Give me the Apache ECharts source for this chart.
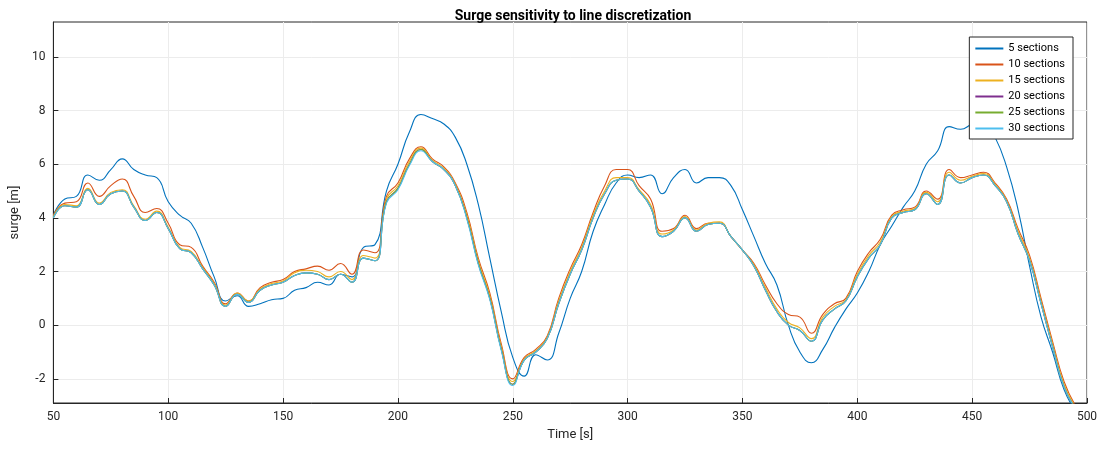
<!DOCTYPE html>
<html>
<head>
<meta charset="utf-8" />
<title>Surge sensitivity</title>
<script src="https://cdn.jsdelivr.net/npm/echarts@6/dist/echarts.min.js"></script>
<style>html,body{margin:0;background:#fff;}</style>
</head>
<body>
<div id="main" style="width:1102px;height:452px;"></div>
<script>
// time axis, 5 s steps
var times = [];
for (var t = 50; t <= 495; t += 5) times.push(t);
var names = ['5 sections', '10 sections', '15 sections', '20 sections', '25 sections', '30 sections'];
var colors = ['#0072BD', '#D95319', '#EDB120', '#7E2F8E', '#77AC30', '#4DBEEE'];

var s5 = [4.1,4.7,4.8,5.6,5.4,5.8,6.2,5.8,5.6,5.5,4.6,4.1,3.8,2.9,1.8,0.9,1.1,0.7,0.8,0.95,1.0,1.3,1.4,1.6,1.5,1.9,1.8,2.9,3.0,5.0,
  6.0,7.2,7.85,7.7,7.5,7.0,6.0,4.5,2.5,0.5,-1.2,-1.9,-1.1,-1.3,-0.3,1.0,2.0,3.5,4.5,5.3,5.6,5.5,5.6,4.9,5.5,5.8,5.3,5.5,5.5,5.2,
  4.3,3.3,2.3,1.5,0.0,-1.0,-1.4,-0.9,-0.1,0.6,1.2,2.0,3.0,3.7,4.4,5.0,6.0,6.5,7.4,7.3,7.5,7.6,7.0,5.9,4.3,2.2,0.3,-1.0,-2.4,-3.2];
var s10 = [4.1,4.55,4.6,5.3,4.8,5.2,5.45,4.8,4.2,4.35,3.8,3.0,2.9,2.2,1.6,0.8,1.2,0.9,1.4,1.6,1.7,2.0,2.1,2.2,2.05,2.3,1.9,2.8,2.7,4.8,
  5.3,6.2,6.65,6.2,5.9,5.3,4.2,2.5,1.2,-0.7,-2.0,-1.2,-0.9,-0.4,1.0,2.1,3.0,4.2,5.2,5.8,5.8,5.2,4.7,3.5,3.6,4.1,3.6,3.8,3.8,3.3,
  2.8,2.3,1.5,0.8,0.4,0.3,-0.3,0.4,0.8,1.0,2.0,2.7,3.2,4.1,4.3,4.4,5.0,4.7,5.8,5.5,5.6,5.7,5.3,4.7,3.6,2.6,1.0,-0.6,-2.1,-3.0];
var s15 = [4.05,4.5,4.45,5.1,4.55,4.95,5.05,4.45,3.95,4.25,3.65,2.9,2.75,2.15,1.55,0.75,1.2,0.9,1.35,1.55,1.65,1.95,2.05,2.0,1.8,2.0,1.7,2.6,2.5,4.7,
  5.2,6.1,6.6,6.15,5.85,5.25,4.1,2.4,1.1,-0.8,-2.1,-1.25,-0.95,-0.45,0.9,2.0,2.9,4.1,5.0,5.5,5.5,5.05,4.5,3.4,3.55,4.05,3.55,3.8,3.85,3.3,
  2.8,2.25,1.4,0.6,0.1,-0.1,-0.5,0.3,0.7,0.95,1.9,2.6,3.1,4.05,4.25,4.35,4.95,4.6,5.7,5.4,5.55,5.65,5.25,4.65,3.5,2.5,0.9,-0.7,-2.2,-3.05];
var s20 = [4.0,4.45,4.4,5.05,4.5,4.9,5.0,4.4,3.9,4.2,3.6,2.85,2.7,2.1,1.5,0.7,1.15,0.85,1.3,1.5,1.6,1.85,1.95,1.9,1.7,1.9,1.6,2.5,2.4,4.6,
  5.1,6.0,6.55,6.1,5.8,5.2,4.0,2.3,1.0,-0.9,-2.2,-1.3,-1.0,-0.5,0.8,1.9,2.8,4.0,4.9,5.4,5.45,5.0,4.4,3.3,3.5,4.0,3.5,3.75,3.8,3.3,
  2.8,2.2,1.3,0.5,0.0,-0.2,-0.6,0.2,0.6,0.9,1.8,2.5,3.0,4.0,4.2,4.3,4.9,4.5,5.6,5.3,5.5,5.6,5.2,4.6,3.4,2.4,0.8,-0.8,-2.3,-3.1];
var s25 = s20.slice();
var s30 = [4.0,4.45,4.4,5.05,4.5,4.9,5.0,4.4,3.9,4.2,3.6,2.85,2.7,2.1,1.5,0.7,1.15,0.85,1.3,1.5,1.6,1.85,1.95,1.9,1.7,1.9,1.6,2.5,2.4,4.55,
  5.05,5.95,6.5,6.1,5.8,5.2,3.95,2.25,0.95,-0.95,-2.25,-1.3,-1.0,-0.5,0.8,1.9,2.8,4.0,4.9,5.4,5.45,5.0,4.4,3.3,3.5,4.0,3.5,3.75,3.8,3.3,
  2.8,2.2,1.3,0.5,0.0,-0.2,-0.6,0.2,0.6,0.9,1.8,2.5,3.0,4.0,4.2,4.3,4.9,4.5,5.6,5.3,5.5,5.6,5.2,4.6,3.4,2.4,0.8,-0.8,-2.3,-3.1];
var allSeries = [s5, s10, s15, s20, s25, s30];

function pairs(vals) {
  return vals.map(function (v, i) { return [times[i], v]; });
}

var myChart = echarts.init(document.getElementById('main'));
var font = 'Roboto, "Liberation Sans", Arial, sans-serif';
var option = {
  animation: false,
  textStyle: { fontFamily: font },
  title: {
    text: 'Surge sensitivity to line discretization',
    left: 568, top: 4, textAlign: 'center',
    textStyle: { fontSize: 14, fontWeight: 'bold', color: '#000', fontFamily: font }
  },
  grid: { left: 49, right: 15, top: 22, bottom: 49, show: true, borderColor: '#262626', borderWidth: 1 },
  legend: {
    orient: 'vertical', right: 29, top: 37,
    data: names, itemWidth: 28, itemHeight: 2, itemGap: 5,
    icon: 'rect',
    backgroundColor: '#fff', borderColor: '#262626', borderWidth: 1, borderRadius: 0,
    padding: [6, 8, 5, 6],
    textStyle: { fontSize: 11, color: '#000' }
  },
  xAxis: {
    type: 'value', min: 50, max: 500, interval: 50,
    name: 'Time [s]', nameLocation: 'middle', nameGap: 24,
    nameTextStyle: { fontSize: 13, color: '#262626' },
    axisLine: { onZero: false, lineStyle: { color: '#262626' } },
    axisTick: { inside: true, length: 5, lineStyle: { color: '#262626' } },
    axisLabel: { fontSize: 12, color: '#262626' },
    splitLine: { show: true, lineStyle: { color: '#ececec' } }
  },
  yAxis: {
    type: 'value', min: -2.9, max: 11.3,
    name: 'surge [m]', nameLocation: 'middle', nameGap: 26,
    nameTextStyle: { fontSize: 13, color: '#262626' },
    axisLine: { show: true, onZero: false, lineStyle: { color: '#262626' } },
    axisTick: { inside: true, length: 5, lineStyle: { color: '#262626' },
      customValues: [-2, 0, 2, 4, 6, 8, 10] },
    axisLabel: { fontSize: 12, color: '#262626', customValues: [-2, 0, 2, 4, 6, 8, 10] },
    splitLine: { show: true, lineStyle: { color: '#ececec' } }
  },
  series: names.map(function (n, i) {
    return {
      name: n, type: 'line', data: pairs(allSeries[i]), smooth: 0.5,
      showSymbol: false, clip: true,
      lineStyle: { width: 1.1, color: colors[i] }, itemStyle: { color: colors[i] }
    };
  })
};
myChart.setOption(option);
</script>
</body>
</html>
